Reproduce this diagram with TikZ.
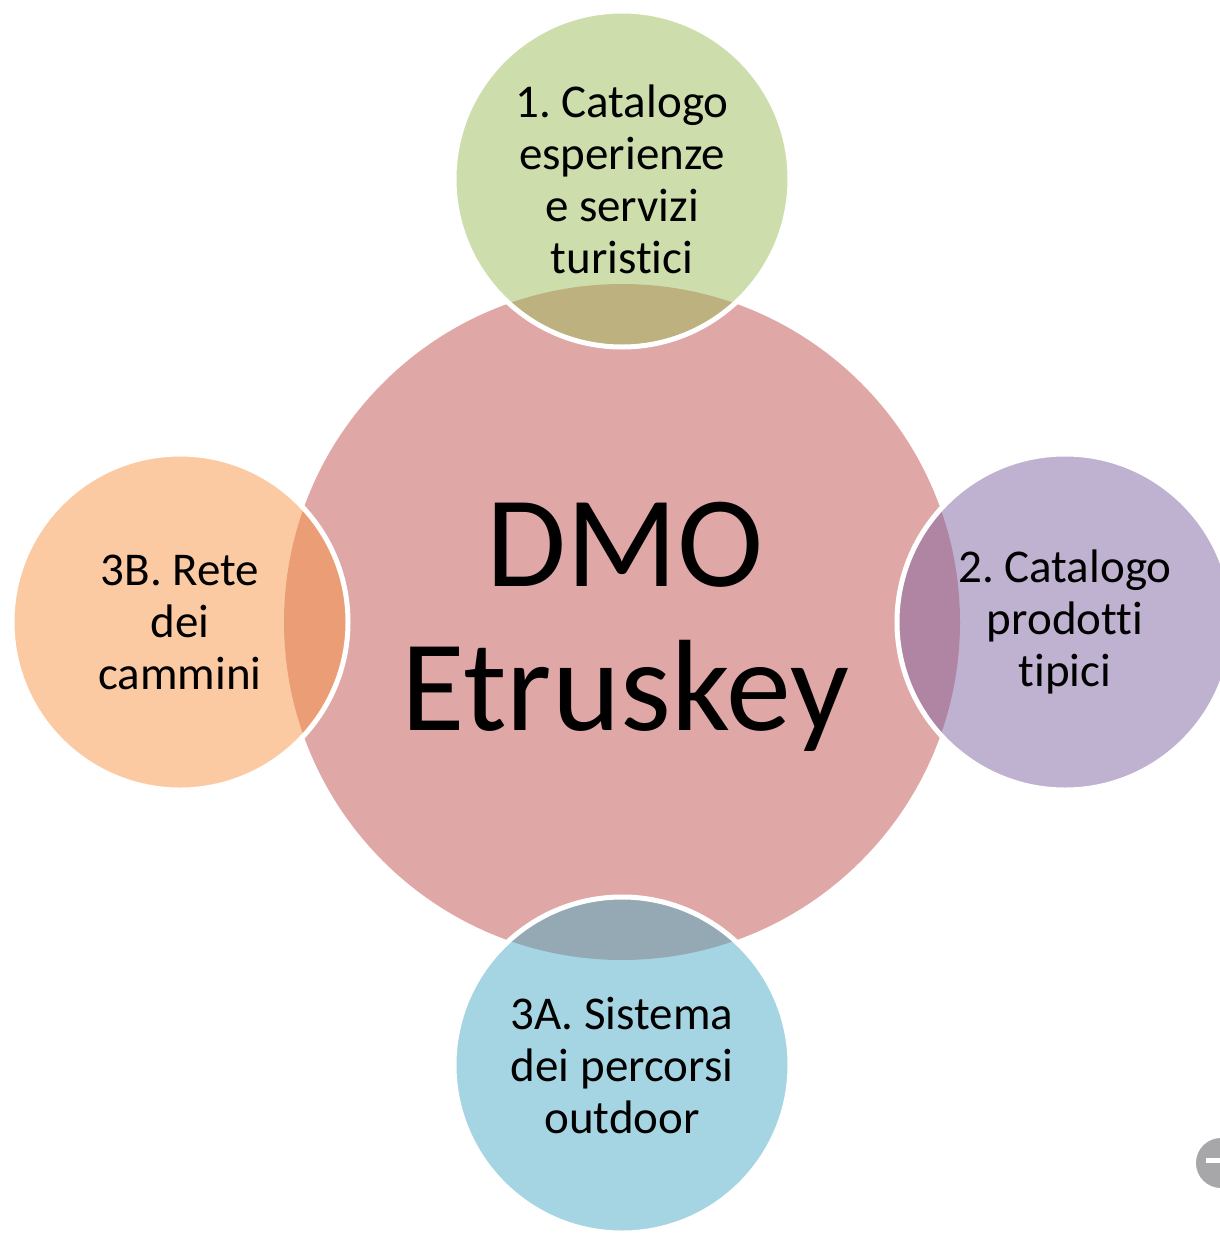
\documentclass[tikz,border=0pt]{standalone}
\usepackage{fontspec}
\setmainfont{Carlito}[Ligatures={NoCommon,NoContextual}]
\frenchspacing
\definecolor{cred}{HTML}{C0504D}
\definecolor{cgreen}{HTML}{9BBB59}
\definecolor{cpurple}{HTML}{8064A2}
\definecolor{corange}{HTML}{F79646}
\definecolor{cblue}{HTML}{4BACC6}
\definecolor{cicon}{HTML}{A7A7AA}
\tikzset{
  hub/.style={circle, inner sep=0pt, minimum size=676pt, fill=cred, fill opacity=0.5},
  hubtext/.style={align=center, inner sep=0pt, font=\fontsize{130}{144}\selectfont},
  sat/.style={circle, inner sep=0pt, minimum size=336pt, fill=#1, fill opacity=0.5, text opacity=1,
    draw=white, draw opacity=1, line width=5pt, align=center, font=\fontsize{47}{52}\selectfont}
}
\begin{document}
\begin{tikzpicture}[x=1pt,y=-1pt]
\useasboundingbox (0,0) rectangle (1220,1237);
\clip (0,0) rectangle (1220,1237);
\node[hub] (hub) at (622,622) {};
\node[hubtext] (hubt) at (625,627) {DMO\\Etruskey};
\node[sat=cgreen] (s1) at (622,179) {1. Catalogo\\esperienze\\e servizi\\turistici};
\node[sat=cpurple] (s2) at (1065,622) {2. Catalogo\\prodotti\\tipici};
\node[sat=cblue] (s3a) at (622,1065) {3A. Sistema\\dei percorsi\\outdoor};
\node[sat=corange] (s3b) at (180,622) {3B. Rete\\dei\\cammini};
\begin{scope}
  \fill[cicon] (1221,1163) circle (25);
  \fill[white] (1206,1158) rectangle (1230,1163);
\end{scope}
\end{tikzpicture}
\end{document}
